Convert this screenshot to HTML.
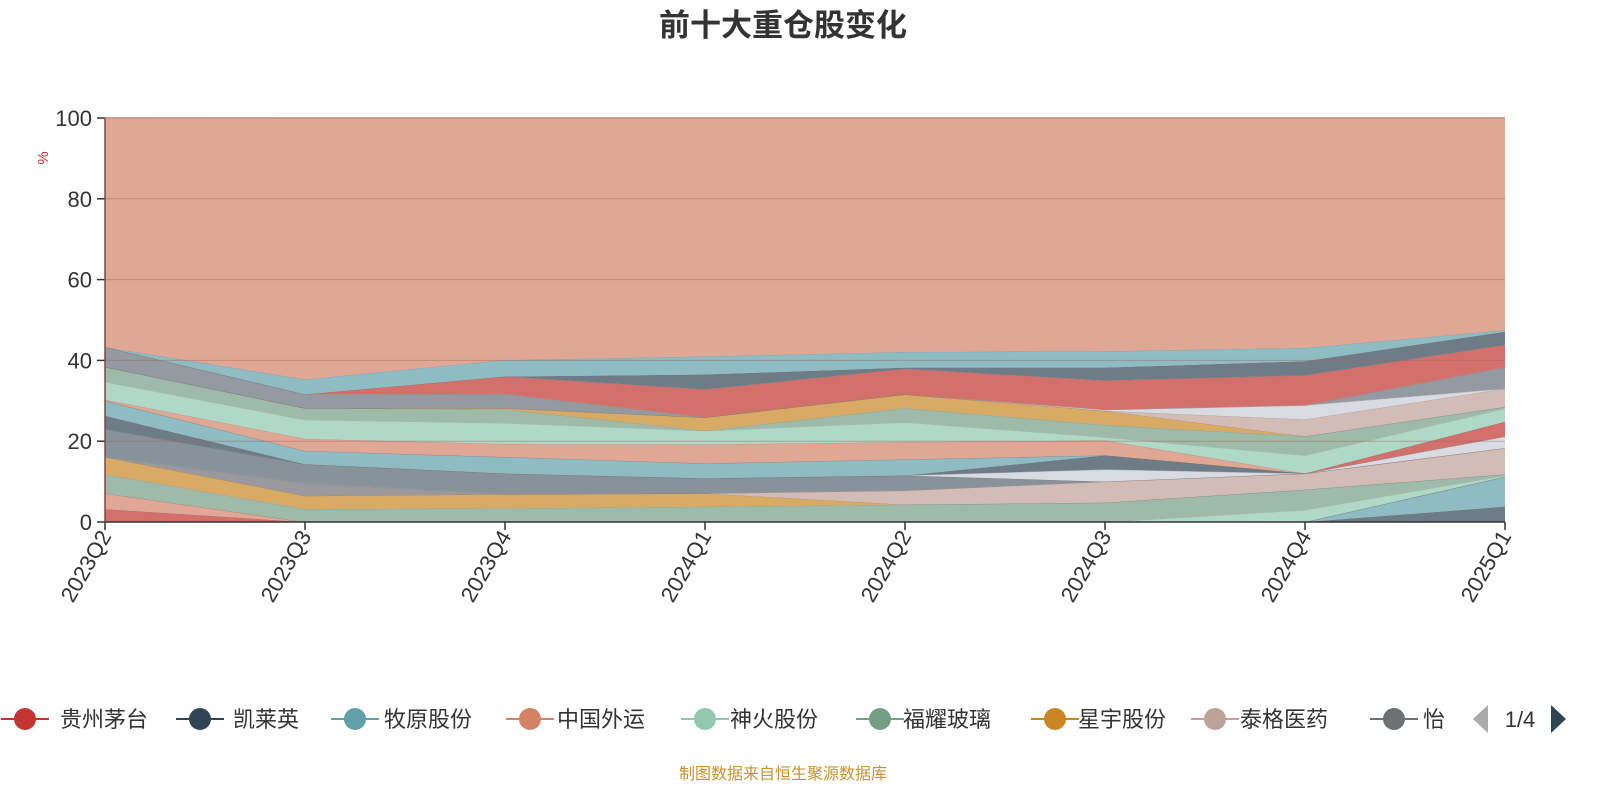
<!DOCTYPE html>
<html><head><meta charset="utf-8"><style>
body{margin:0;background:#fff;font-family:"Liberation Sans","Noto Sans CJK SC",sans-serif;}
svg text{font-family:"Liberation Sans","Noto Sans CJK SC",sans-serif;}
</style></head><body>
<svg id="chart" width="1600" height="800" viewBox="0 0 1600 800" xmlns="http://www.w3.org/2000/svg">
<text x="783" y="36" text-anchor="middle" font-size="31" font-weight="bold" fill="#333">前十大重仓股变化</text>
<text x="48" y="158" font-size="15" fill="#e02020" text-anchor="middle" transform="rotate(-90 48 158)">%</text>
<g id="areas"></g>
<g id="grid"></g>
<g id="axes"></g>
<g id="legend"></g>
<text x="783" y="779" text-anchor="middle" font-size="16" fill="#c8922c">制图数据来自恒生聚源数据库</text>
</svg>
<script>
const categories=["2023Q2","2023Q3","2023Q4","2024Q1","2024Q2","2024Q3","2024Q4","2025Q1"];
const yTicks=[0,20,40,60,80,100];
const legendNames=["贵州茅台","凯莱英","牧原股份","中国外运","神火股份","福耀玻璃","星宇股份","泰格医药","怡亚通"];
const legendColors=["#c23531","#2f4554","#61a0a8","#d48265","#91c7ae","#749f83","#ca8622","#bda29a","#6e7074"];
const s01=[0,0,0,0,0,0,0,3.8];
const s02=[0,0,0,0,0,0,0,7.4];
const s03=[3.2,0,0,0,0,0,0,0];
const s04=[3.9,0,0,0,0,0,0,0];
const s05=[0,0,0,0,0,0,3,0.3];
const s06=[4.7,3.2,3.4,3.8,4.3,4.8,5,0.3];
const s07=[4.3,3.3,3.5,3.3,0,0,0,0];
const s08=[0,0,0,0,3.5,5.2,4,6.5];
const s09=[0,3.1,0,0,0,0,0,0];
const s10=[6.9,4.7,5.1,3.7,3.7,0,0,0];
const s11=[0,0,0,0,0,3,0,2.9];
const s12=[3.3,0,0,0,0,3.5,0,0];
const s13=[3.7,3.3,4.1,3.7,4,0,0,0];
const s14=[0,0,0,0,0,0,0,3.6];
const s15=[0.3,3,3.2,4.7,4.3,3.7,0,0];
const s16=[4.4,4.7,5.2,3.4,4.9,0.8,4.5,3.3];
const s17=[3.7,2.9,3.4,0,3.5,3,4.7,0.4];
const s18=[0,0,0.3,3.3,3.4,3.5,0,0];
const s19=[0,0,0,0,0,0,4.2,4.5];
const s20=[0,0,0,0,0,0.3,3.5,0];
const s21=[4.9,3.4,3.5,0,0,0,0,5.3];
const s22=[0,0,4.3,6.9,6.3,7.2,7.4,5.5];
const s23=[0,0,0,3.7,0.3,3.2,3.5,3.3];
const s24=[0,3.7,4.1,4.5,3.9,4.1,3.3,0.4];
const s25=[56.8,64.7,59.9,59,57.9,57.7,56.9,52.5];
const seriesList=[s01,s02,s03,s04,s05,s06,s07,s08,s09,s10,s11,s12,s13,s14,s15,s16,s17,s18,s19,s20,s21,s22,s23,s24,s25];
const seriesColors=["#6e7c88","#8fbbc2","#d4706c","#e0a795","#b0d8c6","#9dbba8","#d8aa64","#d2bcb5","#9a9a9e","#87929b","#d8dce2","#6e7c88","#8fbbc2","#d4706c","#e0a795","#b0d8c6","#9dbba8","#d8aa64","#d2bcb5","#d8dce2","#939aa1","#d4706c","#6e7c88","#8fbbc2","#e0a794"];
const NS="http://www.w3.org/2000/svg";
const X0=105,X1=1505,Y0=522,Y1=118;
function xs(i){return X0+(X1-X0)*i/(categories.length-1);}
function ys(v){return Y0-(Y0-Y1)*v/100;}
function mk(tag,attrs,parent){const e=document.createElementNS(NS,tag);for(const k in attrs)e.setAttribute(k,attrs[k]);parent.appendChild(e);return e;}
const areas=document.getElementById('areas');
let base=categories.map(()=>0);
seriesList.forEach((s,si)=>{
  const top=base.map((b,i)=>b+s[i]);
  let d="";
  top.forEach((v,i)=>{d+=(i?"L":"M")+xs(i)+","+ys(v);});
  for(let i=base.length-1;i>=0;i--)d+="L"+xs(i)+","+ys(base[i]);
  d+="Z";
  const p=mk('path',{d:d,fill:seriesColors[si],stroke:"none"},areas);
  
  
  let l="";top.forEach((v,i)=>{l+=(i?"L":"M")+xs(i)+","+ys(v);});
  const ln=mk('path',{d:l,fill:"none",stroke:"rgba(120,110,110,0.35)","stroke-width":1},areas);
  
  
  base=top;
});
const grid=document.getElementById('grid');
const axes=document.getElementById('axes');
yTicks.forEach(t=>{
  if(t>0){const g=mk('line',{x1:X0,x2:X1,y1:ys(t),y2:ys(t),stroke:t===100?"#d08a74":"rgba(160,100,90,0.45)","stroke-width":t===100?1.5:1},grid);
  
  }
  const tk=mk('line',{x1:X0-8,x2:X0,y1:ys(t),y2:ys(t),stroke:"#333","stroke-width":1.5},axes);
  
  
  const tx=mk('text',{x:X0-13,y:ys(t)+8,"text-anchor":"end","font-size":22,fill:"#333"},axes);
  tx.textContent=t;
  
  
});
const ya=mk('line',{x1:X0,x2:X0,y1:Y1,y2:Y0,stroke:"#7a4a40","stroke-width":1.5},axes);


const xa=mk('line',{x1:X0,x2:X1,y1:Y0,y2:Y0,stroke:"#333","stroke-width":1.5},axes);


categories.forEach((c,i)=>{
  const tk=mk('line',{x1:xs(i),x2:xs(i),y1:Y0,y2:Y0+8,stroke:"#333","stroke-width":1.5},axes);
  
  
  const tx=mk('text',{x:xs(i)+7,y:Y0+14,"text-anchor":"end","font-size":22,fill:"#333",transform:"rotate(-60 "+(xs(i)+7)+" "+(Y0+14)+")"},axes);
  tx.textContent=c;
  
  
});
const legend=document.getElementById('legend');
const lx=[25,200,355,530,705,880,1055,1215,1394];
const tx0=[60,233,384,557,730,903,1078,1240,1423];
legendNames.forEach((n,i)=>{
  const g=mk('g',{},legend);
  
  
  mk('line',{x1:lx[i]-24,x2:lx[i]+24,y1:719,y2:719,stroke:legendColors[i],"stroke-width":2},g);
  mk('circle',{cx:lx[i],cy:719,r:11,fill:legendColors[i]},g);
  const t=mk('text',{x:tx0[i],y:727,"font-size":22,fill:"#333"},g);
  t.textContent=i===8?"怡":n;
});
const pl=mk('polygon',{points:"1473,719 1488,705 1488,733",fill:"#aaa"},legend);


const pt=mk('text',{x:1520,y:727,"font-size":22,fill:"#333","text-anchor":"middle"},legend);
pt.textContent="1/4";


const pr=mk('polygon',{points:"1566,719 1551,705 1551,733",fill:"#2f4554"},legend);


</script>
</body></html>
